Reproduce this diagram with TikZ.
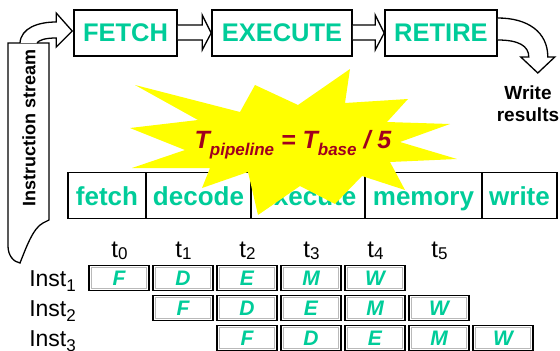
\documentclass[tikz,border=0pt]{standalone}
\usepackage{fontspec}
\setmainfont{Liberation Sans}
\usetikzlibrary{calc}
\definecolor{teal1}{RGB}{0,204,153}
\definecolor{dred}{RGB}{160,0,30}
\definecolor{burst}{RGB}{255,255,0}
\newcommand{\lowsub}[2]{\raisebox{-#1}{\fontsize{17}{17}\selectfont #2}}
\begin{document}
\begin{tikzpicture}[x=1pt,y=-1pt,
  stage/.style={draw, line width=1.6pt, fill=white, minimum height=46pt, inner sep=0pt, text=teal1, font=\fontsize{25.5}{25.5}\selectfont\bfseries},
  pipe/.style={draw, line width=1.6pt, minimum height=46pt, inner sep=0pt, text=teal1, font=\fontsize{26}{26}\selectfont\bfseries, text height=19.4pt, text depth=0pt},
  blockarrow/.style={draw, line width=1.3pt, fill=white, line join=miter},
  cell/.style={draw, line width=1.4pt, minimum width=60pt, minimum height=25pt, inner sep=0pt, text=teal1, font=\fontsize{21}{21}\selectfont\bfseries\itshape, text height=14pt, text depth=0pt,
    path picture={\draw[gray!55, line width=0.7pt] ([shift={(2.2pt,-2.2pt)}]path picture bounding box.north west) rectangle ([shift={(-2.2pt,2.2pt)}]path picture bounding box.south east);}},
  tlab/.style={font=\fontsize{24}{24}\selectfont, anchor=base, inner sep=0pt},
  ilab/.style={font=\fontsize{23}{23}\selectfont, anchor=base east, inner sep=0pt},
  note/.style={font=\fontsize{19}{22}\selectfont\bfseries, align=center, inner sep=0pt},
  formula/.style={font=\fontsize{25}{25}\selectfont\bfseries\itshape, text=dred, anchor=base, inner sep=0pt},
  vtext/.style={font=\fontsize{18}{18}\selectfont\bfseries, rotate=90, inner sep=0pt}
]
\useasboundingbox (0,0) rectangle (560,351);

% top stages
\node[stage, minimum width=103pt] (fetch) at (125.5,33) {FETCH};
\node[stage, minimum width=140pt] (execute) at (282,33) {EXECUTE};
\node[stage, minimum width=112pt] (retire) at (441,33) {RETIRE};

% block arrows between stages
\draw[blockarrow] ($(fetch.east)+(0,-8)$) -- ($(execute.west)+(-9,-8)$) -- ($(execute.west)+(-9,-18)$) -- (execute.west) -- ($(execute.west)+(-9,17)$) -- ($(execute.west)+(-9,7)$) -- ($(fetch.east)+(0,7)$);
\draw[blockarrow] ($(execute.east)+(0,-8)$) -- ($(retire.west)+(-9,-8)$) -- ($(retire.west)+(-9,-18)$) -- (retire.west) -- ($(retire.west)+(-9,17)$) -- ($(retire.west)+(-9,7)$) -- ($(execute.east)+(0,7)$);

% curved arrow out of RETIRE
\node[note] (wr) at (528,104) {Write\\results};
\draw[blockarrow] ($(retire.east)+(0,-15)$) .. controls ($(retire.east)+(30,-15)$) and ($(retire.east)+(50,-1)$) .. ($(retire.east)+(50,24)$) -- ($(retire.east)+(57,24)$) -- ($(retire.east)+(40,40)$) -- ($(retire.east)+(23,24)$) -- ($(retire.east)+(31,24)$) .. controls ($(retire.east)+(31,13)$) and ($(retire.east)+(21,7)$) .. ($(retire.east)+(0,7)$);

% instruction stream
\coordinate (istop) at (8,43);
\draw[blockarrow] (49,220) -- (49,43) -- (istop) -- (8,246) .. controls (8,256) and (14,262) .. (20,263) .. controls (26,248) and (33,228) .. (43,223) -- cycle;
\node[vtext] (istream) at (29,128) {Instruction stream};
\draw[blockarrow] ($(istop)+(12,0)$) .. controls ($(istop)+(13,-15)$) and ($(istop)+(30,-21)$) .. ($(fetch.west)+(-17,-11)$) -- ($(fetch.west)+(-17,-20)$) -- ($(fetch.west)+(-1,-2)$) -- ($(fetch.west)+(-17,14)$) -- ($(fetch.west)+(-17,5)$) .. controls ($(fetch.west)+(-28,5)$) and ($(istop)+(31,-3)$) .. ($(istop)+(29,0)$);

% pipeline row
\node[pipe, minimum width=78pt] (pf) at (107,195.3) {fetch};
\node[pipe, minimum width=105pt] (pd) at (198.5,195.3) {decode};
\node[pipe, minimum width=114pt] (pe) at (308,195.3) {execute};
\node[pipe, minimum width=117pt] (pm) at (423.5,195.3) {memory};
\node[pipe, minimum width=75pt] (pw) at (519.5,195.3) {write};

% starburst
\fill[burst] (350,69) -- (345,103) -- (408,99) -- (387,122) -- (450,124) -- (400,142) -- (457,159) -- (390,162) -- (405,190) -- (362,176) -- (335,204) -- (300,186) -- (258,215) -- (248,172) -- (202,188) -- (210,168) -- (132,168) -- (185,150) -- (130,128) -- (198,120) -- (135,85) -- (240,112) -- (255,85) -- (298,105) -- cycle;
\node[formula] (eq) at (293,148) {T\raisebox{-7pt}{\fontsize{17}{17}\selectfont pipeline} = T\raisebox{-7pt}{\fontsize{17}{17}\selectfont base} / 5};

% time labels
\foreach \k in {0,...,5} {
  \node[tlab] (t\k) at (119.5+64*\k,257) {t\lowsub{2pt}{\k}};
}
% instruction labels
\foreach \r in {0,1,2} {
  \pgfmathtruncatemacro\n{\r+1}
  \node[ilab] (inst\n) at (76,286.5+30*\r) {Inst\lowsub{5pt}{\n}};
}
% cells
\foreach \r in {0,1,2} {
  \foreach \L [count=\k from 0] in {F,D,E,M,W} {
    \pgfmathtruncatemacro\c{\k+\r}
    \node[cell] (c\r\c) at (119+64*\c,278+30*\r) {\L};
  }
}
\end{tikzpicture}
\end{document}
